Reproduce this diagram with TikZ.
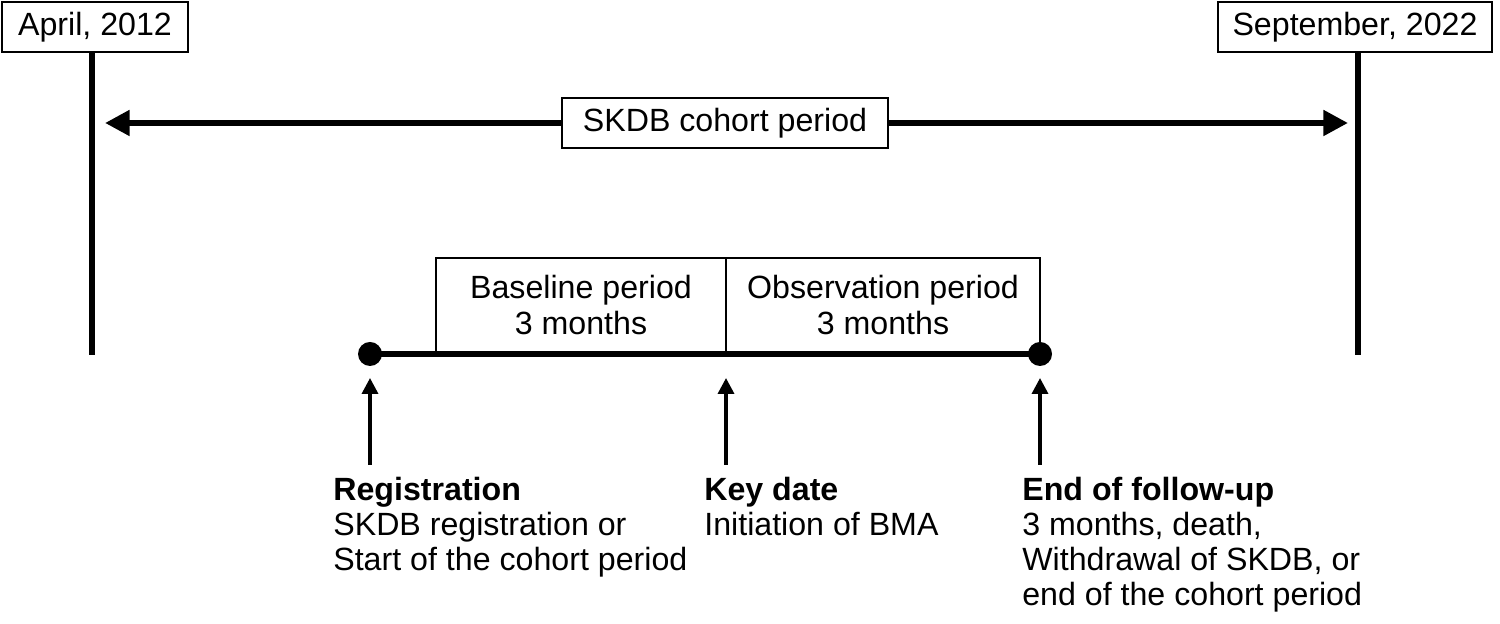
\documentclass[tikz,border=0pt]{standalone}
\usepackage{fontspec}
\setmainfont{Liberation Sans}
\usetikzlibrary{arrows.meta}
\tikzset{
  lbl/.style={draw, line width=1pt, inner sep=0pt, font=\fontsize{18.3}{21}\selectfont},
  bar/.style={line width=3.4pt},
  txt/.style={anchor=north west, align=left, inner sep=0pt, font=\fontsize{18.3}{19.9}\selectfont}
}
\begin{document}
\begin{tikzpicture}
            \useasboundingbox (0,0) rectangle (30,12.48);
            % dates
            \node[lbl, minimum width=3.72cm, minimum height=1cm] (start) at (1.9,11.94) {April, 2012};
            \node[lbl, minimum width=5.48cm, minimum height=1cm] (stop) at (27.1,11.94) {September, 2022};
            \coordinate (s1) at (1.84,11.44);
            \coordinate (s2) at (1.84,5.38);
            \coordinate (e1) at (27.16,11.44);
            \coordinate (e2) at (27.16,5.38);
            \draw[bar] (s1) -- (s2);
            \draw[bar] (e1) -- (e2);
            % cohort period
            \node[lbl, minimum width=6.52cm, minimum height=1cm, fill=white] (cohort) at (14.5,10.02) {SKDB cohort period};
            \coordinate (c1) at (2.1,10.02);
            \coordinate (c2) at (26.96,10.02);
            \draw[bar, -{Triangle[length=14pt,width=14pt]}] (cohort) -- (c1);
            \draw[bar, -{Triangle[length=14pt,width=14pt]}] (cohort) -- (c2);
            % periods
            \node[lbl, minimum width=5.8cm, minimum height=1.88cm, align=center] (base) at (11.62,6.38) {Baseline period\\3 months};
            \node[lbl, minimum width=6.28cm, minimum height=1.88cm, align=center] (obs) at (17.66,6.38) {Observation period\\3 months};
            \coordinate (reg) at (7.4,5.4);
            \coordinate (key) at (14.52,5.4);
            \coordinate (fin) at (20.8,5.4);
            \draw[bar] (reg) -- (fin);
            \fill (reg) circle (0.24);
            \fill (fin) circle (0.24);
            % pointers
            \foreach \p in {reg, key, fin}
                \draw[line width=2pt, -{Triangle[length=9pt,width=9pt]}] ([yshift=-2.22cm]\p) -- ([yshift=-0.48cm]\p);
            \node[txt] (regtxt) at (6.66,2.95) {\textbf{Registration}\\SKDB registration or\\Start of the cohort period};
            \node[txt] (keytxt) at (14.08,2.95) {\textbf{Key date}\\Initiation of BMA};
            \node[txt] (fintxt) at (20.44,2.95) {\textbf{End of follow-up}\\3 months, death,\\Withdrawal of SKDB, or\\end of the cohort period};
\end{tikzpicture}
\end{document}
